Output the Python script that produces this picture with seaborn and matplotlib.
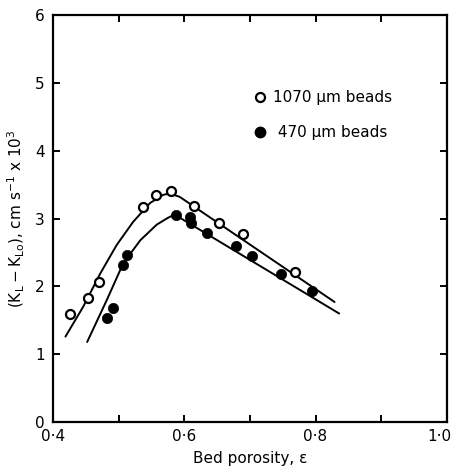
import matplotlib
matplotlib.use("Agg")
import matplotlib.pyplot as plt
import matplotlib.transforms as mtransforms
import seaborn as sns
import pandas as pd
from matplotlib.lines import Line2D

# ---- data ----
x_1070 = [0.426, 0.454, 0.470, 0.537, 0.557, 0.580, 0.615, 0.653, 0.690, 0.768]
y_1070 = [1.60, 1.83, 2.06, 3.17, 3.35, 3.41, 3.18, 2.94, 2.77, 2.21]

x_470 = [0.482, 0.492, 0.506, 0.513, 0.587, 0.609, 0.610, 0.635, 0.679, 0.703, 0.747, 0.795]
y_470 = [1.54, 1.68, 2.32, 2.46, 3.05, 3.03, 2.93, 2.79, 2.60, 2.45, 2.18, 1.93]

# fitted curves (traced)
curve_1070_x = [0.419, 0.446, 0.472, 0.497, 0.522, 0.548, 0.568, 0.578, 0.593, 0.829]
curve_1070_y = [1.26, 1.70, 2.19, 2.61, 2.95, 3.23, 3.35, 3.37, 3.32, 1.77]

curve_470_x = [0.452, 0.482, 0.507, 0.533, 0.558, 0.575, 0.585, 0.836]
curve_470_y = [1.18, 1.80, 2.34, 2.68, 2.91, 3.01, 3.06, 1.60]

x_ticks = [0.4, 0.6, 0.8, 1.0]
x_tick_labels = ["0·4", "0·6", "0·8", "1·0"]
x_minor = [0.5, 0.7, 0.9]
y_ticks = [0, 1, 2, 3, 4, 5, 6]
y_tick_labels = ["0", "1", "2", "3", "4", "5", "6"]
legend_labels = ["1070 μm beads", " 470 μm beads"]

sns.set_style("ticks")
plt.rcParams["font.family"] = ["DejaVu Sans"]
plt.rcParams["text.color"] = "black"
plt.rcParams["axes.labelcolor"] = "black"

fig = plt.figure(figsize=(4.55, 4.70), dpi=100)
ax = fig.add_axes([0.1165, 0.102, 0.8655, 0.866])

df_c1 = pd.DataFrame({"x": curve_1070_x, "y": curve_1070_y})
df_c2 = pd.DataFrame({"x": curve_470_x, "y": curve_470_y})
sns.lineplot(data=df_c1, x="x", y="y", sort=False, estimator=None, color="black", lw=1.4, ax=ax)
sns.lineplot(data=df_c2, x="x", y="y", sort=False, estimator=None, color="black", lw=1.4, ax=ax)

df1 = pd.DataFrame({"x": x_1070, "y": y_1070})
df2 = pd.DataFrame({"x": x_470, "y": y_470})
sns.scatterplot(data=df1, x="x", y="y", marker="o", s=42, facecolor="white",
                edgecolor="black", linewidth=1.6, ax=ax, zorder=3)
sns.scatterplot(data=df2, x="x", y="y", marker="o", s=55, color="black",
                edgecolor="black", linewidth=0.5, ax=ax, zorder=3)

ax.set_xlim(0.4, 1.0)
ax.set_ylim(0, 6)
ax.set_xticks(x_ticks)
ax.set_xticklabels(x_tick_labels)
ax.set_xticks(x_minor, minor=True)
ax.set_yticks(y_ticks)
ax.set_yticklabels(y_tick_labels)

for s in ax.spines.values():
    s.set_linewidth(1.6)
    s.set_color("black")
ax.tick_params(which="both", direction="in", top=True, right=True, length=5, width=1.4,
               labelsize=11, colors="black")
ax.tick_params(axis="x", pad=5)
ax.tick_params(axis="y", pad=6)

# keep the last x tick label inside the figure
last = ax.get_xticklabels()[-1]
last.set_transform(last.get_transform() + mtransforms.ScaledTranslation(-5 / 72, 0, fig.dpi_scale_trans))

ax.set_xlabel("Bed porosity, ε", fontsize=11, labelpad=5)
ax.set_ylabel(r"$(\mathrm{K_L - K_{Lo}})$, cm s$^{-1}$ x 10$^{3}$", fontsize=11, labelpad=6)

handles = [
    Line2D([], [], marker="o", ls="none", markersize=6.5, markerfacecolor="white",
           markeredgecolor="black", markeredgewidth=1.6),
    Line2D([], [], marker="o", ls="none", markersize=7.5, markerfacecolor="black",
           markeredgecolor="black"),
]
leg = ax.legend(handles, legend_labels, loc="upper left", bbox_to_anchor=(0.505, 0.815),
                frameon=False, fontsize=11, handlelength=1.0, handletextpad=0.4,
                labelspacing=1.3, borderpad=0, borderaxespad=0)
for t in leg.get_texts():
    t.set_color("black")

fig.savefig("out.png", dpi=100)
